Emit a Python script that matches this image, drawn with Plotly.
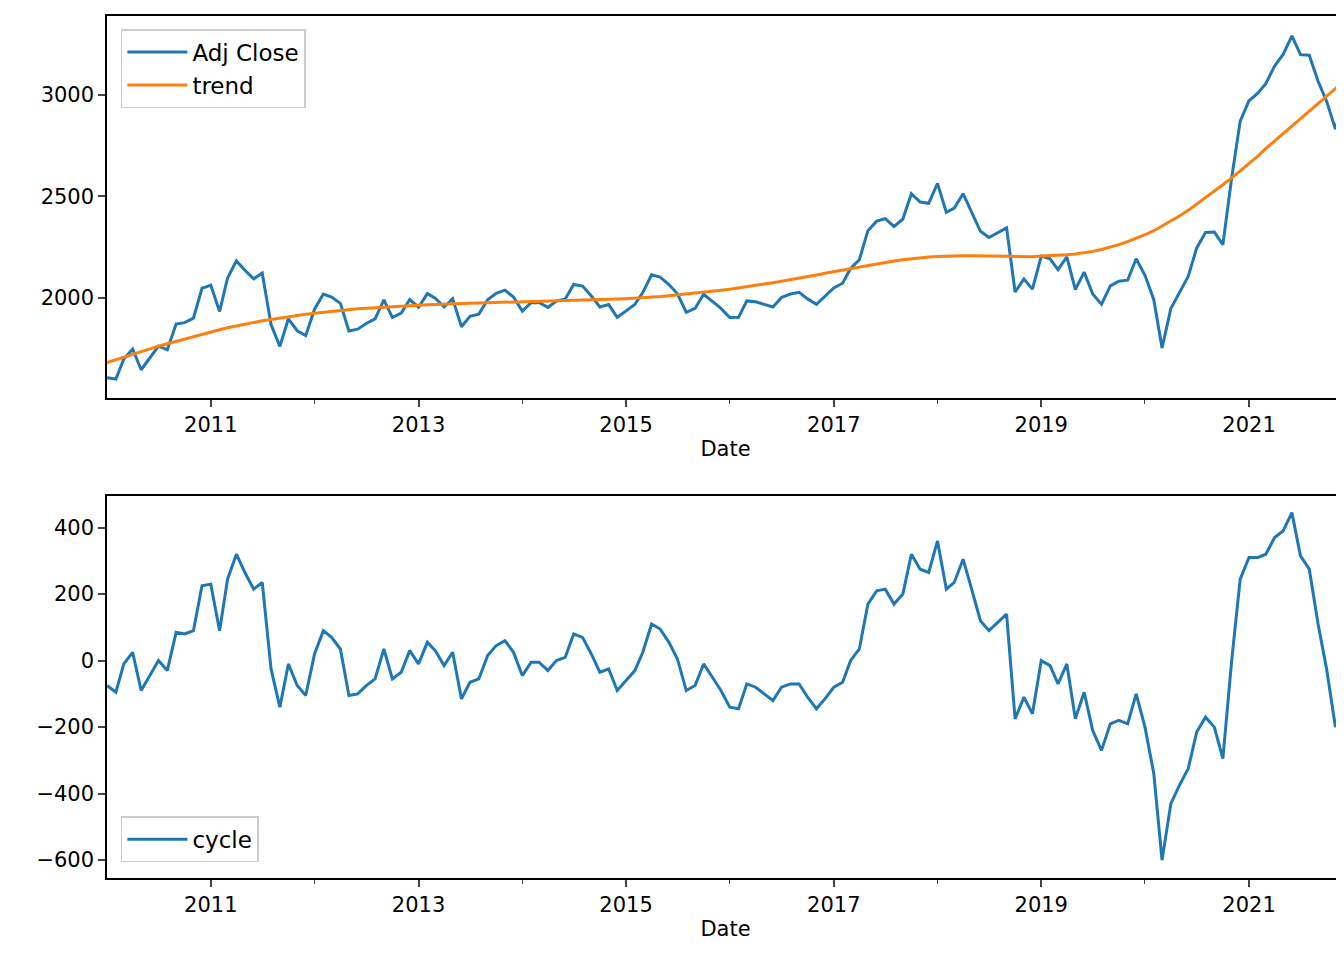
import plotly.graph_objects as go
from plotly.subplots import make_subplots
import pandas as pd

dates = pd.date_range("2010-01-01", "2021-12-01", freq="MS").strftime("%Y-%m-%d").tolist()

# HP-filter cycle component
cycle = [
    -75, -95, -10, 25, -90, -45, 0, -30, 85, 80, 90, 225,
    230, 90, 245, 320, 265, 215, 235, -25, -140, -10, -75, -105,
    20, 90, 70, 35, -105, -100, -75, -55, 35, -55, -35, 30,
    -10, 55, 30, -15, 25, -115, -65, -55, 15, 45, 60, 25,
    -45, -5, -5, -30, 0, 10, 80, 70, 20, -35, -25, -90,
    -60, -30, 25, 110, 95, 55, 5, -90, -75, -10, -50, -90,
    -140, -145, -70, -80, -100, -120, -80, -70, -70, -110, -145, -115,
    -80, -65, 0, 35, 170, 210, 215, 170, 200, 320, 275, 265,
    360, 215, 235, 305, 215, 120, 90, 115, 140, -175, -110, -160,
    0, -15, -70, -10, -175, -95, -210, -270, -190, -180, -190, -100,
    -200, -340, -600, -430, -375, -325, -215, -170, -200, -295, 0, 245,
    310, 310, 320, 370, 390, 445, 315, 275, 110, -25, -200, -95,
]

# smooth trend
trend = [
    1680, 1694, 1708, 1722, 1735, 1748, 1761, 1773, 1785, 1797, 1809, 1821,
    1832, 1842, 1852, 1861, 1870, 1878, 1886, 1893, 1900, 1906, 1912, 1918,
    1923, 1928, 1933, 1937, 1941, 1945, 1948, 1951, 1954, 1957, 1959, 1961,
    1963, 1965, 1967, 1969, 1970, 1972, 1973, 1974, 1975, 1976, 1977, 1978,
    1979, 1980, 1981, 1982, 1983, 1984, 1985, 1987, 1988, 1989, 1991, 1993,
    1995, 1997, 2000, 2003, 2006, 2010, 2014, 2018, 2022, 2027, 2032, 2037,
    2042, 2048, 2054, 2060, 2067, 2074, 2081, 2088, 2096, 2104, 2112, 2120,
    2128, 2136, 2144, 2152, 2160, 2167, 2174, 2181, 2187, 2192, 2196, 2200,
    2203, 2205, 2206, 2207, 2207, 2207, 2206, 2205, 2204, 2203, 2202, 2202,
    2205, 2206, 2208, 2211, 2215, 2221, 2228, 2237, 2248, 2261, 2276, 2292,
    2310, 2330, 2352, 2376, 2402, 2430, 2460, 2491, 2523, 2556, 2590, 2625,
    2660, 2697, 2734, 2771, 2808, 2845, 2882, 2919, 2956, 2993, 3030, 3067,
]

adj_close = [t + c for t, c in zip(trend, cycle)]

blue = '#1f77b4'
orange = '#ff7f0e'
font = dict(family="DejaVu Sans", size=21, color="black")
legend_font = dict(family="DejaVu Sans", size=23, color="black")

fig = make_subplots(rows=2, cols=1)
fig.add_trace(go.Scatter(x=dates, y=adj_close, mode='lines', name='Adj Close',
                         line=dict(color=blue, width=3), legend='legend'), row=1, col=1)
fig.add_trace(go.Scatter(x=dates, y=trend, mode='lines', name='trend',
                         line=dict(color=orange, width=3), legend='legend'), row=1, col=1)
fig.add_trace(go.Scatter(x=dates, y=cycle, mode='lines', name='cycle',
                         line=dict(color=blue, width=3), legend='legend2'), row=2, col=1)

xticks = [f"{y}-01-01" for y in range(2011, 2022, 2)]
xaxis_style = dict(
    range=[dates[0], dates[-1]], tickvals=xticks, ticktext=[s[:4] for s in xticks],
    showgrid=False, zeroline=False, showline=True, linecolor='black', linewidth=1.5,
    mirror=True, ticks='outside', ticklen=7, tickwidth=1.5, tickfont=font,
    automargin=False,
    minor=dict(tickvals=[f"{y}-01-01" for y in range(2012, 2022, 2)],
               ticks='outside', ticklen=4, tickwidth=1.2),
    title=dict(text='Date', font=font, standoff=6),
)
yaxis_style = dict(showgrid=False, zeroline=False, showline=True, linecolor='black',
                   linewidth=1.5, mirror=True, ticks='outside', ticklen=7,
                   tickwidth=1.5, tickfont=font, automargin=False)

fig.update_xaxes(**xaxis_style, domain=[0.0737, 0.994])
fig.update_yaxes(**yaxis_style)
fig.update_yaxes(range=[1507, 3389], tickvals=[2000, 2500, 3000], domain=[0.594, 0.992], row=1, col=1)
fig.update_yaxes(range=[-653, 496], tickvals=[-600, -400, -200, 0, 200, 400], domain=[0.094, 0.492], row=2, col=1)

legend_style = dict(font=legend_font, bgcolor='rgba(255,255,255,0.8)', bordercolor='#cccccc',
                    borderwidth=1.5, xanchor='left', xref='paper', yref='paper',
                    itemwidth=60, tracegroupgap=2)
fig.update_layout(
    width=1344, height=960,
    margin=dict(l=0, r=0, t=0, b=0),
    plot_bgcolor='white', paper_bgcolor='white',
    font=font,
    legend=dict(**legend_style, x=0.084, y=0.978, yanchor='top'),
    legend2=dict(**legend_style, x=0.084, y=0.11, yanchor='bottom'),
)

fig.write_html("out.html")
